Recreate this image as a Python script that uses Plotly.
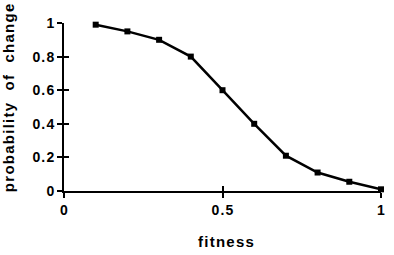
import plotly.graph_objects as go

fitness = [0.1, 0.2, 0.3, 0.4, 0.5, 0.6, 0.7, 0.8, 0.9, 1.0]
prob_change = [0.99, 0.95, 0.90, 0.80, 0.60, 0.40, 0.21, 0.11, 0.055, 0.01]
x_ticks = [0, 0.5, 1]
x_tick_labels = ["0", "0.5", "1"]
y_ticks = [0, 0.2, 0.4, 0.6, 0.8, 1]
y_tick_labels = ["0", "0.2", "0.4", "0.6", "0.8", "1"]
x_title = "fitness"
y_title_words = ["probability", "of", "change"]

HS = "\u200a"


def spaced(s):
    return HS.join(s)


FAM = "Liberation Sans, Arial, sans-serif"
font = dict(family=FAM, size=14, color="black")
title_font = dict(family=FAM, size=15, color="black")

fig = go.Figure()
fig.add_trace(go.Scatter(
    x=fitness, y=prob_change, mode="lines+markers",
    line=dict(color="black", width=2.5),
    marker=dict(symbol="square", size=6, color="black"),
    cliponaxis=False, showlegend=False,
))
fig.add_trace(go.Scatter(x=[None], y=[None], xaxis="x2", yaxis="y2", showlegend=False))

fig.update_layout(
    width=394, height=255,
    margin=dict(l=64, r=9, t=23, b=64),
    paper_bgcolor="white", plot_bgcolor="white",
    font=font,
    xaxis=dict(
        range=[0, 1], tickvals=x_ticks,
        ticktext=["<b>" + spaced(t) + "</b>" for t in x_tick_labels],
        ticks="outside", ticklen=5, tickwidth=1.5, tickcolor="black",
        showline=True, linecolor="black", linewidth=2,
        showgrid=False, zeroline=False, tickfont=font,
    ),
    yaxis=dict(
        range=[0, 1], tickvals=y_ticks,
        ticktext=["<b>" + spaced(t) + "</b>" for t in y_tick_labels],
        ticks="outside", ticklen=5, tickwidth=1.5, tickcolor="black",
        showline=True, linecolor="black", linewidth=2,
        showgrid=False, zeroline=False, tickfont=font,
    ),
    xaxis2=dict(
        range=[0, 1], overlaying="x", tickvals=[0.5], showticklabels=False,
        ticks="inside", ticklen=5, tickwidth=1.5, tickcolor="black",
        showgrid=False, zeroline=False, showline=False,
    ),
    yaxis2=dict(
        range=[0, 1], overlaying="y", tickvals=y_ticks, showticklabels=False,
        ticks="inside", ticklen=5, tickwidth=1.5, tickcolor="black",
        showgrid=False, zeroline=False, showline=False,
    ),
    annotations=[
        dict(text="<b>" + spaced(x_title) + "</b>", xref="paper", yref="paper",
             x=0.51, y=-0.30, xanchor="center", yanchor="middle",
             showarrow=False, font=title_font),
        dict(text="<b>" + "\u00a0\u00a0\u00a0".join(spaced(w) for w in y_title_words) + "</b>",
             xref="paper", yref="paper", x=-0.175, y=0.55,
             xanchor="center", yanchor="middle", textangle=-90,
             showarrow=False, font=title_font),
    ],
)

fig.write_html("out.html")
